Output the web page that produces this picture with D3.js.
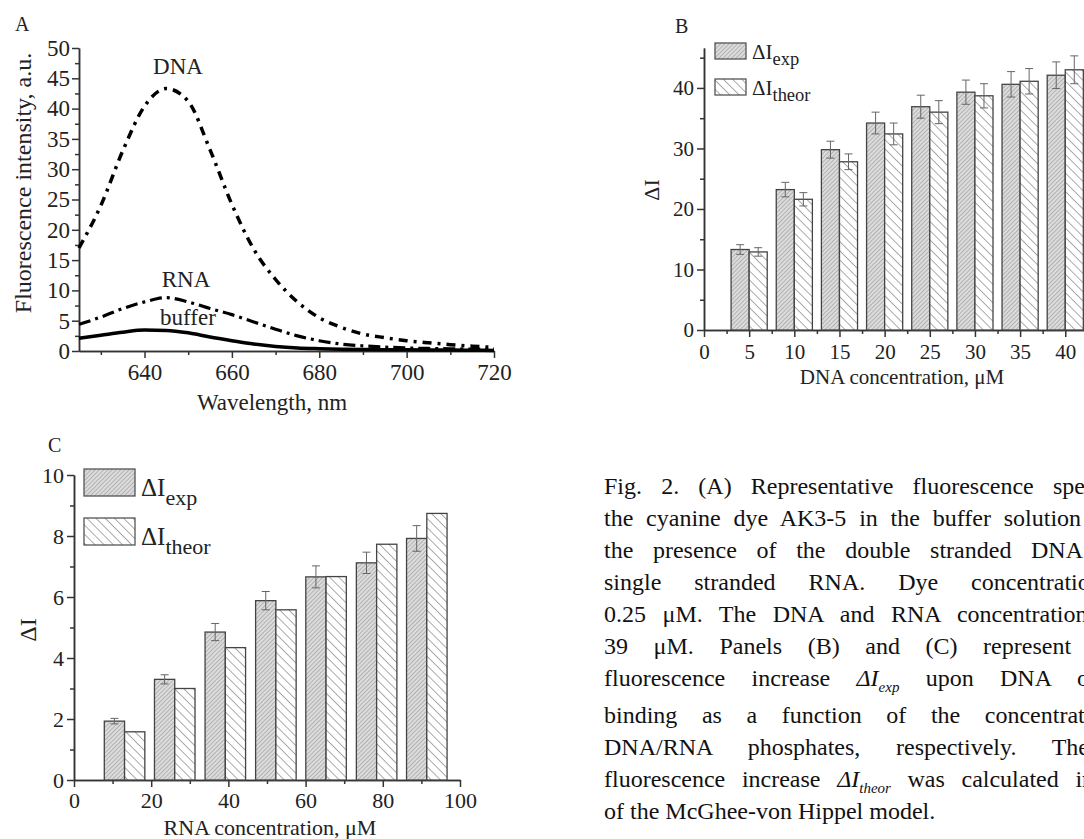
<!DOCTYPE html>
<html>
<head>
<meta charset="utf-8">
<script src="https://cdn.jsdelivr.net/npm/d3@7"></script>
<style>
  body { margin: 0; background: #fff; width: 1084px; height: 839px; overflow: hidden; position: relative;
         font-family: 'Liberation Serif', 'Times New Roman', serif; color: #111; }
  svg { position: absolute; left: 0; top: 0; }
  svg text { font-family: 'Liberation Serif', 'Times New Roman', serif; }
  #caption { position: absolute; left: 604px; top: 470px; font-size: 24px; }
  #caption .ln { text-align: justify; text-align-last: justify; height: 32px; line-height: 32px; white-space: nowrap; }
  #caption .ln.tall { height: 37px; }
  #caption .ln.last { text-align-last: left; }
  #caption sub { font-size: 15px; font-style: italic; }
</style>
</head>
<body>
<svg id="fig" width="1084" height="839"></svg>
<div id="caption"></div>
<script>
// ---- data ----
// panel A: emission spectra
const wavelength = [625, 630, 635, 640, 645, 650, 655, 660, 665, 670, 675, 680, 685, 690, 695, 700, 705, 710, 715, 720];
const dnaSpec    = [17, 24, 33, 40.4, 43.3, 41.2, 33.2, 24.2, 16.8, 11.8, 8.1, 5.5, 3.9, 2.8, 2.2, 1.7, 1.35, 1.05, 0.8, 0.6];
const rnaSpec    = [4.4, 5.6, 7.0, 8.1, 8.8, 8.1, 7.0, 6.0, 4.8, 3.6, 2.5, 1.7, 1.15, 0.85, 0.65, 0.5, 0.42, 0.36, 0.32, 0.3];
const bufferSpec = [2.1, 2.6, 3.1, 3.45, 3.4, 3.0, 2.3, 1.7, 1.15, 0.75, 0.5, 0.38, 0.3, 0.25, 0.22, 0.2, 0.17, 0.15, 0.12, 0.1];

// panel B: DNA titration
const dnaConc     = [5, 10, 15, 20, 25, 30, 35, 40];
const dnaExp      = [13.3, 23.2, 29.8, 34.2, 36.9, 39.3, 40.6, 42.1];
const dnaExpErr   = [0.8, 1.2, 1.4, 1.8, 1.9, 2.0, 2.1, 2.2];
const dnaTheor    = [12.9, 21.6, 27.8, 32.4, 36.0, 38.7, 41.1, 43.0];
const dnaTheorErr = [0.7, 1.1, 1.3, 1.8, 1.9, 2.0, 2.1, 2.3];

// panel C: RNA titration
const rnaConc   = [13.1, 26.1, 39.2, 52.3, 65.3, 78.4, 91.4];
const rnaExp    = [1.93, 3.3, 4.85, 5.88, 6.66, 7.12, 7.92];
const rnaExpErr = [0.09, 0.15, 0.28, 0.3, 0.36, 0.35, 0.42];
const rnaTheor  = [1.58, 3.0, 4.34, 5.58, 6.67, 7.73, 8.74];

const captionLines = [
  "Fig. 2. (A) Representative fluorescence spectra of",
  "the cyanine dye AK3-5 in the buffer solution and in",
  "the presence of the double stranded DNA and",
  "single stranded RNA. Dye concentration was",
  "0.25 μM. The DNA and RNA concentrations were",
  "39 μM. Panels (B) and (C) represent the",
  "fluorescence increase <i>ΔI</i><sub>exp</sub> upon DNA or RNA",
  "binding as a function of the concentration of",
  "DNA/RNA phosphates, respectively. The",
  "fluorescence increase <i>ΔI</i><sub>theor</sub> was calculated in terms",
  "of the McGhee-von Hippel model."
];
// justified width of each caption line (the column runs past the page edge)
const captionWidths = [556, 556, 532, 568, 556, 522, 570, 556, 485, 560, null];

const FONT = "'Liberation Serif', 'Times New Roman', serif";
const svg = d3.select("#fig");

// hatch patterns
const defs = svg.append("defs");
function hatch(id, bg, stroke, gap, angle, sw) {
  const p = defs.append("pattern").attr("id", id)
    .attr("patternUnits", "userSpaceOnUse")
    .attr("width", gap).attr("height", gap)
    .attr("patternTransform", `rotate(${angle})`);
  p.append("rect").attr("width", gap).attr("height", gap).attr("fill", bg);
  p.append("line").attr("x1", 0).attr("y1", 0).attr("x2", 0).attr("y2", gap)
    .attr("stroke", stroke).attr("stroke-width", sw);
}
hatch("hExp", "#dcdcdc", "#888", 3, 45, 1);
hatch("hTheor", "#ffffff", "#666", 6.5, -45, 1.1);

function styleAxis(g, fs) {
  g.attr("font-family", FONT).attr("font-size", fs);
  g.select(".domain").attr("stroke", "#333").attr("stroke-width", 1.5);
  g.selectAll(".tick line").attr("stroke", "#333").attr("stroke-width", 1.5);
  g.selectAll("text").attr("font-size", fs).attr("font-family", FONT).attr("fill", "#222");
}

function addText(x, y, txt, fs, anchor, rot) {
  const t = svg.append("text")
    .attr("x", x).attr("y", y)
    .attr("font-family", FONT).attr("font-size", fs)
    .attr("fill", "#222")
    .attr("text-anchor", anchor || "start")
    .text(txt);
  if (rot) t.attr("transform", `rotate(-90,${x},${y})`);
  return t;
}

// ---------- panel A ----------
const xA = d3.scaleLinear().domain([625, 720]).range([79, 494]);
const yA = d3.scaleLinear().domain([0, 50]).range([351, 48]);

svg.append("g").attr("transform", `translate(0,${yA(0)})`)
  .call(d3.axisBottom(xA).tickValues([630, 650, 670, 690, 710]).tickSize(4).tickFormat("").tickSizeOuter(0))
  .call(g => styleAxis(g, 23));
svg.append("g").attr("transform", `translate(0,${yA(0)})`)
  .call(d3.axisBottom(xA).tickValues([640, 660, 680, 700, 720]).tickSize(7).tickPadding(6).tickSizeOuter(0))
  .call(g => styleAxis(g, 23));
svg.append("g").attr("transform", `translate(${xA(625)},0)`)
  .call(d3.axisLeft(yA).tickValues(d3.range(2.5, 50, 5)).tickSize(4).tickFormat("").tickSizeOuter(0))
  .call(g => styleAxis(g, 23));
svg.append("g").attr("transform", `translate(${xA(625)},0)`)
  .call(d3.axisLeft(yA).tickValues(d3.range(0, 51, 5)).tickSize(7).tickPadding(2).tickSizeOuter(0))
  .call(g => styleAxis(g, 23));

const lineA = d3.line().x(d => xA(d[0])).y(d => yA(d[1])).curve(d3.curveMonotoneX);
const specs = [
  { v: bufferSpec, dash: null, w: 3.5 },
  { v: rnaSpec, dash: "12,5,3,5", w: 3.2 },
  { v: dnaSpec, dash: "9,6,3,6", w: 3.5 }
];
specs.forEach(s => {
  svg.append("path")
    .datum(wavelength.map((w, i) => [w, s.v[i]]))
    .attr("d", lineA)
    .attr("fill", "none").attr("stroke", "#000")
    .attr("stroke-width", s.w)
    .attr("stroke-dasharray", s.dash);
});

addText(178, 74, "DNA", 23, "middle");
addText(186, 287, "RNA", 23, "middle");
addText(188, 325, "buffer", 23, "middle");
addText(15, 31, "A", 20);
addText(31, 183, "Fluorescence intensity, a.u.", 24, "middle", true);
addText(272, 410, "Wavelength, nm", 23, "middle");

// ---------- bar panels ----------
function barPanel(o) {
  const x = o.x, y = o.y;
  const bw = o.bw;
  svg.append("g").attr("transform", `translate(0,${y(0)})`)
    .call(d3.axisBottom(x).tickValues(o.xMinor).tickSize(4).tickFormat("").tickSizeOuter(0))
    .call(g => styleAxis(g, o.fs));
  svg.append("g").attr("transform", `translate(0,${y(0)})`)
    .call(d3.axisBottom(x).tickValues(o.xMajor).tickSize(7).tickPadding(o.xPad).tickSizeOuter(0))
    .call(g => styleAxis(g, o.fs));
  svg.append("g").attr("transform", `translate(${x(0)},0)`)
    .call(d3.axisLeft(y).tickValues(o.yMinor).tickSize(4).tickFormat("").tickSizeOuter(0))
    .call(g => styleAxis(g, o.fs));
  svg.append("g").attr("transform", `translate(${x(0)},0)`)
    .call(d3.axisLeft(y).tickValues(o.yMajor).tickSize(7).tickPadding(3).tickSizeOuter(0))
    .call(g => styleAxis(g, o.fs));

  const series = [
    { v: o.exp, err: o.expErr, fill: "url(#hExp)", off: -bw },
    { v: o.theor, err: o.theorErr, fill: "url(#hTheor)", off: 0 }
  ];
  series.forEach(s => {
    const g = svg.append("g");
    g.selectAll("rect").data(o.conc).enter().append("rect")
      .attr("x", d => x(d + s.off))
      .attr("y", (d, i) => y(s.v[i]))
      .attr("width", x(bw) - x(0))
      .attr("height", (d, i) => y(0) - y(s.v[i]))
      .attr("fill", s.fill)
      .attr("stroke", "#444").attr("stroke-width", 1.3);
    if (s.err) {
      const cx = d => x(d + s.off + bw / 2);
      g.selectAll("line.e").data(o.conc).enter().append("line")
        .attr("x1", cx).attr("x2", cx)
        .attr("y1", (d, i) => y(s.v[i] - s.err[i]))
        .attr("y2", (d, i) => y(s.v[i] + s.err[i]))
        .attr("stroke", "#666").attr("stroke-width", 1);
      [-1, 1].forEach(sign => {
        g.selectAll(null).data(o.conc).enter().append("line")
          .attr("x1", d => cx(d) - 4).attr("x2", d => cx(d) + 4)
          .attr("y1", (d, i) => y(s.v[i] + sign * s.err[i]))
          .attr("y2", (d, i) => y(s.v[i] + sign * s.err[i]))
          .attr("stroke", "#666").attr("stroke-width", 1);
      });
    }
  });

  // legend
  const L = o.legend;
  [["url(#hExp)", "exp"], ["url(#hTheor)", "theor"]].forEach((it, i) => {
    const ly = L.y + i * L.dy;
    svg.append("rect").attr("x", L.x).attr("y", ly).attr("width", L.w).attr("height", L.h)
      .attr("fill", it[0]).attr("stroke", "#555").attr("stroke-width", 1.3);
    const t = svg.append("text")
      .attr("x", L.x + L.w + 6).attr("y", ly + L.h)
      .attr("font-family", FONT).attr("font-size", L.fs).attr("fill", "#222");
    t.append("tspan").text("ΔI");
    t.append("tspan").attr("dy", L.sub).attr("font-size", L.fs * 0.88).text(it[1]);
  });
}

// panel B
const xB = d3.scaleLinear().domain([0, 47.5]).range([704, 1133]);
const yB = d3.scaleLinear().domain([0, 46.6]).range([330, 48]);
barPanel({
  x: xB, y: yB, bw: 2, fs: 21, xPad: 7,
  conc: dnaConc, exp: dnaExp, expErr: dnaExpErr, theor: dnaTheor, theorErr: dnaTheorErr,
  xMajor: d3.range(0, 46, 5), xMinor: d3.range(2.5, 47.5, 5),
  yMajor: [0, 10, 20, 30, 40], yMinor: [5, 15, 25, 35, 45],
  legend: { x: 715, y: 43, dy: 36, w: 31, h: 16, fs: 21, sub: 6 }
});
addText(675, 33, "B", 20);
addText(659, 190, "ΔI", 22, "middle", true);
addText(902, 384, "DNA concentration, μM", 21, "middle");

// panel C
const xC = d3.scaleLinear().domain([0, 100]).range([74, 460]);
const yC = d3.scaleLinear().domain([0, 10]).range([780, 475]);
barPanel({
  x: xC, y: yC, bw: 5.25, fs: 22, xPad: 5,
  conc: rnaConc, exp: rnaExp, expErr: rnaExpErr, theor: rnaTheor, theorErr: null,
  xMajor: d3.range(0, 101, 20), xMinor: d3.range(10, 100, 20),
  yMajor: [0, 2, 4, 6, 8, 10], yMinor: [1, 3, 5, 7, 9],
  legend: { x: 84, y: 469, dy: 49, w: 51, h: 27, fs: 25, sub: 9 }
});
addText(48, 452, "C", 20);
addText(36, 630, "ΔI", 24, "middle", true);
addText(270, 835, "RNA concentration, μM", 22, "middle");

// ---------- caption ----------
const cap = d3.select("#caption");
captionLines.forEach((t, i) => {
  cap.append("div")
    .attr("class", "ln" + (i === 6 ? " tall" : "") + (i === captionLines.length - 1 ? " last" : ""))
    .style("width", captionWidths[i] ? captionWidths[i] + "px" : null)
    .html(t);
});
</script>
</body>
</html>
